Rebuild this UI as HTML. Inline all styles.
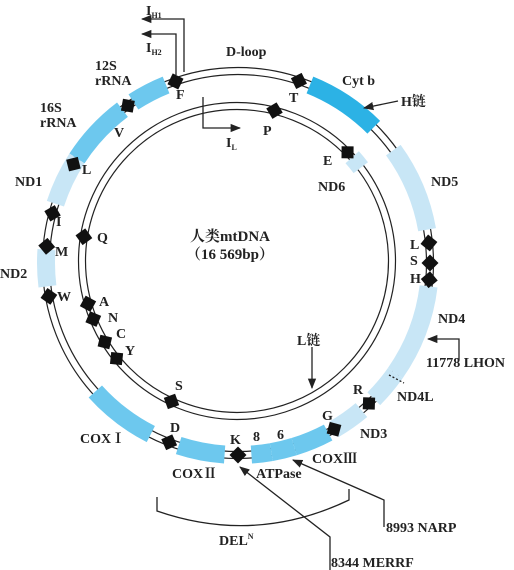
<!DOCTYPE html>
<html><head><meta charset="utf-8"><style>
html,body{margin:0;padding:0;background:#fff}
svg{display:block}
text{font-family:"Liberation Serif","Noto Serif CJK SC",serif;font-weight:bold;font-size:14px;fill:#222}
</style></head><body>
<svg id="c" width="514" height="570" viewBox="0 0 514 570">
<defs><marker id="ah" viewBox="0 0 10 10" refX="9" refY="5" markerWidth="8" markerHeight="8" orient="auto"><path d="M0,1 L10,5 L0,9 Z" fill="#222"/></marker></defs>
<g id="rings"></g><g id="blocks"></g><g id="marks"></g>
<g id="labels">
<text x="226" y="56">D-loop</text>
<text x="342" y="85">Cyt b</text>
<text x="401" y="106">H链</text>
<text x="431" y="186">ND5</text>
<text x="318" y="191">ND6</text>
<text x="323" y="165">E</text>
<text x="263" y="135">P</text>
<text x="289" y="102">T</text>
<text x="176" y="99">F</text>
<text x="95" y="70">12S</text>
<text x="95" y="85">rRNA</text>
<text x="40" y="112">16S</text>
<text x="40" y="127">rRNA</text>
<text x="114" y="137">V</text>
<text x="82" y="174">L</text>
<text x="15" y="186">ND1</text>
<text x="56" y="226">I</text>
<text x="55" y="256">M</text>
<text x="0" y="278">ND2</text>
<text x="57" y="301">W</text>
<text x="97" y="242">Q</text>
<text x="99" y="306">A</text>
<text x="108" y="322">N</text>
<text x="116" y="338">C</text>
<text x="125" y="355">Y</text>
<text x="175" y="390">S</text>
<text x="190" y="241" style="font-size:15px">人类mtDNA</text>
<text x="186" y="259" style="font-size:15px">（16 569bp）</text>
<text x="226" y="147">I<tspan style="font-size:8px" dy="3">L</tspan></text>
<text x="146" y="15">I<tspan style="font-size:8px" dy="3">H1</tspan></text>
<text x="146" y="52">I<tspan style="font-size:8px" dy="3">H2</tspan></text>
<text x="410" y="249">L</text>
<text x="410" y="265">S</text>
<text x="410" y="283">H</text>
<text x="438" y="323">ND4</text>
<text x="426" y="367">11778 LHON</text>
<text x="297" y="345">L链</text>
<text x="397" y="401">ND4L</text>
<text x="353" y="394">R</text>
<text x="322" y="420">G</text>
<text x="360" y="438">ND3</text>
<text x="312" y="463">COXⅢ</text>
<text x="80" y="443">COXⅠ</text>
<text x="170" y="432">D</text>
<text x="172" y="478">COXⅡ</text>
<text x="230" y="444">K</text>
<text x="253" y="441">8</text>
<text x="277" y="439">6</text>
<text x="256" y="478">ATPase</text>
<text x="386" y="532">8993 NARP</text>
<text x="331" y="567">8344 MERRF</text>
<text x="219" y="545">DEL<tspan style="font-size:8px" dy="-6">N</tspan></text>
</g>
<g fill="none" stroke="#222" stroke-width="1.3">
<path d="M184,72 V19 H142" marker-end="url(#ah)"/>
<path d="M176,75 V34 H142" marker-end="url(#ah)"/>
<path d="M203,97 V128 H240" marker-end="url(#ah)"/>
<path d="M398,101 L364,108" marker-end="url(#ah)"/>
<path d="M459,360 V339 H428" marker-end="url(#ah)"/>
<path d="M312,347 V388" marker-end="url(#ah)"/>
<path d="M330,570 V537 L240,467" marker-end="url(#ah)"/>
<path d="M384,527 V500 L293,460" marker-end="url(#ah)"/>
<path d="M157,497 V511 Q255,545 349,500 V489"/>
<path d="M389,375 L404,383" stroke-dasharray="2,2"/>
</g>
</svg>
<script>
const blockNames=['12S','16S','ND1','ND2','COXI','COXII','ATP8','ATP6','COXIII','ND3','ND4L','ND4','ND5','CytB','ND6'];
const blockStart=[327,303,288,263,207,184,163,170,152,140,125,97,54,22,48];
const blockEnd=[338,323,303,274,228,198,170,176,163,150,135,125,80,45,53];
const blockRing=['o','o','o','o','o','o','o','o','o','o','o','o','o','o','i'];
const blockShade=[1,1,0,0,1,1,1,1,1,0,0,0,0,2,0];
const markNames=['F','T','L-S','S-S','H-S','R','G','K','D','W','M','I','L','V','P','E','Q','A','N','C','Y','S'];
const markAngle=[341,18.5,84,90,95,137,150,180,201,260,275,285,301,325,14,45.5,279,254,248,238.5,231,205];
const markRing=['o','o','o','o','o','o','o','o','o','o','o','o','o','o','i','i','i','i','i','i','i','i'];
const rings={o:{cx:238,cy:263,r:192},i:{cx:237,cy:261,r:155}};
const NS='http://www.w3.org/2000/svg';
const shades=['#c8e6f6','#6dc8ee','#2cb2e5'];
function pt(ring,a,rr){const g=rings[ring];const t=a*Math.PI/180;return [g.cx+rr*Math.sin(t),g.cy-rr*Math.cos(t)];}
const rg=document.getElementById('rings');
['o','i'].forEach(k=>{[-3.5,3.5].forEach(d=>{const c=document.createElementNS(NS,'circle');
c.setAttribute('cx',rings[k].cx);c.setAttribute('cy',rings[k].cy);c.setAttribute('r',rings[k].r+d);
c.setAttribute('fill','none');c.setAttribute('stroke','#222');c.setAttribute('stroke-width','1.2');


rg.appendChild(c);});});
const bg=document.getElementById('blocks');
blockNames.forEach((n,i)=>{const k=blockRing[i],r=rings[k].r,w=9;
const a=pt(k,blockStart[i],r+w),b=pt(k,blockEnd[i],r+w),c=pt(k,blockEnd[i],r-w),d=pt(k,blockStart[i],r-w);
const p=document.createElementNS(NS,'path');
p.setAttribute('d',`M${a} A${r+w},${r+w} 0 0 1 ${b} L${c} A${r-w},${r-w} 0 0 0 ${d} Z`);
p.setAttribute('fill',shades[blockShade[i]]);


bg.appendChild(p);});
const mg=document.getElementById('marks');
markNames.forEach((n,i)=>{const k=markRing[i];const [x,y]=pt(k,markAngle[i],rings[k].r);
const s=document.createElementNS(NS,'rect');
s.setAttribute('x',x-6);s.setAttribute('y',y-6);s.setAttribute('width',12);s.setAttribute('height',12);
s.setAttribute('fill','#111');s.setAttribute('transform',`rotate(${markAngle[i]+45} ${x} ${y})`);


mg.appendChild(s);});
</script>
</body></html>
